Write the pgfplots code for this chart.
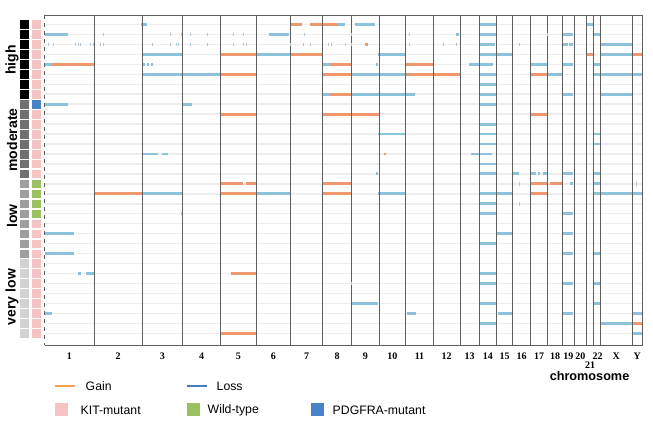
\documentclass[border=0pt]{standalone}
\usepackage{pgfplots}
\pgfplotsset{compat=1.18}
\usepackage{pgfplotstable}
\usepackage{fontspec}
\setmainfont{Liberation Sans}
\newfontfamily\chrfont{Liberation Serif}
\definecolor{gaincol}{RGB}{238,152,112}
\definecolor{losscol}{RGB}{140,194,218}
\definecolor{dotcol}{RGB}{175,200,215}
\definecolor{stripe}{RGB}{240,235,236}
\definecolor{bnd}{RGB}{95,95,95}
\definecolor{leggain}{RGB}{245,160,80}
\definecolor{legloss}{RGB}{70,125,195}
\definecolor{kit}{RGB}{245,195,196}
\definecolor{wt}{RGB}{155,192,95}
\definecolor{pdg}{RGB}{72,130,200}
\definecolor{rmod}{RGB}{112,112,112}
\definecolor{rlow}{RGB}{158,158,158}
\definecolor{rvlow}{RGB}{210,210,210}

% segments: x1 x2 (pixel position along genome) and row (sample)
\pgfplotstableread{
x1 x2 r
290 301.7 1
310 338.3 1
364.5 367.5 3
220.7 256 4
290.7 321.7 4
586.7 593.3 4
632 642.7 4
51.7 94 5
330 351.7 5
405.7 433.3 5
220.7 256 6
322.3 351.7 6
405.7 460 6
530.7 547.3 6
330 351.7 8
220.7 256 10
322.3 379 10
530.7 547.3 10
383.5 385.5 14
220.7 243.3 17
246 256 17
322.3 351.7 17
530.7 546.7 17
550 561.7 17
94 142.3 18
220.7 256 18
322.3 351.7 18
530.7 547.3 18
230.7 256 26
632 642.7 31
220.7 256 32
}\gaintab

\pgfplotstableread{
x1 x2 r
141 147 1
338.3 345 1
355 375 1
480 496 1
586.7 593.3 1
44.7 68.3 2
269 289.3 2
456 459.3 2
480 496 2
562.7 573.3 2
593.3 600.7 2
480 495 3
562.7 567.5 3
568.5 573.3 3
600.7 632 3
142.3 182.3 4
256 290.7 4
378.3 405.7 4
480 512.7 4
600.7 632 4
44.7 51.7 5
143 145 5
147 149 5
150.5 152.5 5
322.3 330 5
376 378 5
469.3 492.7 5
531 546.7 5
562.7 573.3 5
593.3 600.7 5
142.3 220.7 6
351.7 405.7 6
480 496.7 6
547.3 562.7 6
593.3 642.7 6
480 496.7 7
322.3 330 8
351.7 415 8
480 496.7 8
562.7 573.3 8
600.7 632 8
44.7 68.3 9
181.7 191.7 9
480 496.7 9
480 496.7 11
378.3 405.7 12
480 496.7 12
593.3 600.7 12
480 496.7 13
593.3 600.7 13
142.3 158.3 14
161.7 168.3 14
471 491.7 14
480 496.7 15
376 377.5 16
480 496.7 16
512.7 519.3 16
531 536 16
538 539.5 16
543.3 546.7 16
562.7 573.3 16
593.3 600.7 16
570 573.3 17
593.3 600.7 17
142.3 182.3 18
256 290.7 18
378.3 405.7 18
480 512.7 18
593.3 642.7 18
480 495.7 19
480 496.7 20
562.7 573.3 20
44.7 74 22
496.7 512.7 22
562.7 573.3 22
480 496.7 23
44.7 74 24
562.7 573.3 24
593.3 600.7 24
78.3 80.7 26
86 94 26
480 496.7 26
480 496.7 27
562.7 573.3 27
593.3 600.7 27
351.7 378.3 29
480 496.7 29
593.3 600.7 29
44.7 51.7 30
406.7 416 30
497.7 512.7 30
562.7 573.3 30
632 642.7 30
480 496.7 31
600.7 632 31
632 642.7 32
}\losstab

\pgfplotstableread{
x r
103 2
170 2
181 2
190 2
207 2
233 2
243 2
304 2
351.7 2
409 2
547.7 2
48 3
53 3
75 3
78 3
80 3
90 3
93 3
100 3
103 3
152 3
170 3
176 3
178 3
190 3
207 3
233 3
243 3
246 3
290 3
303 3
310 3
328 3
331 3
345 3
351.7 3
409 3
443 3
456 3
519 3
519 17
636 17
519 19
181.7 20
351.7 27
}\dottab

\begin{document}
\begin{tikzpicture}
\begin{axis}[
  at={(0,0)}, anchor=south west,
  width=489.75pt, height=318.75pt, scale only axis,
  xmin=0, xmax=653, ymin=0, ymax=425, y dir=reverse,
  axis lines=none, clip=false,
]
\path (axis cs:0,0) rectangle (axis cs:653,425);
% row stripes
\pgfplotsinvokeforeach{1,...,32}{
  \draw[stripe, line width=1.1pt] (axis cs:44.7,{24.5+(#1-1)*9.96}) -- (axis cs:642.7,{24.5+(#1-1)*9.96});
}
% tiny marks
\addplot[only marks, mark=|, mark size=1.3pt, dotcol, mark options={line width=0.6pt}]
  table[x=x, y expr=24.5+(\thisrow{r}-1)*9.96] {\dottab};
% gains and losses
\addplot[losscol, line width=2.15pt, quiver={u=\thisrow{x2}-\thisrow{x1}, v=0}]
  table[x=x1, y expr=24.5+(\thisrow{r}-1)*9.96] {\losstab};
\addplot[gaincol, line width=2.15pt, quiver={u=\thisrow{x2}-\thisrow{x1}, v=0}]
  table[x=x1, y expr=24.5+(\thisrow{r}-1)*9.96] {\gaintab};
% frame and chromosome boundaries
\draw[bnd, line width=0.75pt] (axis cs:44.7,15) -- (axis cs:642.7,15) -- (axis cs:642.7,345) -- (axis cs:44.7,345);
\draw[bnd, line width=0.75pt, dashed] (axis cs:44.7,15) -- (axis cs:44.7,345);
\pgfplotsinvokeforeach{94,142.3,182.3,220.7,256,290.7,322.3,351.7,379,405.7,433.3,460,479,496.7,512.7,530.7,547.3,562.7,574,586.7,593.3,600.7,632}{
  \draw[bnd, line width=0.75pt] (axis cs:#1,15) -- (axis cs:#1,345);
}
% risk group squares
\addplot[only marks, mark=square*, mark size=2.85pt, black] table[x expr=24.5, y expr=24.5+(\thisrow{r}-1)*9.96] {
r
1
2
3
4
5
6
7
8
};
\addplot[only marks, mark=square*, mark size=2.85pt, rmod] table[x expr=24.5, y expr=24.5+(\thisrow{r}-1)*9.96] {
r
9
10
11
12
13
14
15
16
};
\addplot[only marks, mark=square*, mark size=2.85pt, rlow] table[x expr=24.5, y expr=24.5+(\thisrow{r}-1)*9.96] {
r
17
18
19
20
21
22
23
24
};
\addplot[only marks, mark=square*, mark size=2.85pt, rvlow] table[x expr=24.5, y expr=24.5+(\thisrow{r}-1)*9.96] {
r
25
26
27
28
29
30
31
32
};
% mutation squares
\addplot[only marks, mark=square*, mark size=2.85pt, kit] table[x expr=36.4, y expr=24.5+(\thisrow{r}-1)*9.96] {
r
1
2
3
4
5
6
7
8
10
11
12
13
14
15
16
21
22
23
24
25
26
27
28
29
30
31
32
};
\addplot[only marks, mark=square*, mark size=2.85pt, wt] table[x expr=36.4, y expr=24.5+(\thisrow{r}-1)*9.96] {
r
17
18
19
20
};
\addplot[only marks, mark=square*, mark size=2.85pt, pdg] table[x expr=36.4, y expr=24.5+(\thisrow{r}-1)*9.96] {
r
9
};
% group labels
\node[rotate=90, font=\fontsize{10.5}{12}\selectfont\bfseries] at (axis cs:12,60) {high};
\node[rotate=90, font=\fontsize{10.5}{12}\selectfont\bfseries] at (axis cs:12,140) {moderate};
\node[rotate=90, font=\fontsize{10.5}{12}\selectfont\bfseries] at (axis cs:12,216) {low};
\node[rotate=90, font=\fontsize{10.5}{12}\selectfont\bfseries] at (axis cs:12,297) {very low};
% chromosome labels
\begin{scope}[every node/.style={font=\chrfont\bfseries\fontsize{7.5}{8}\selectfont}]
\node at (axis cs:69.35,356) {1};
\node at (axis cs:118.15,356) {2};
\node at (axis cs:162.3,356) {3};
\node at (axis cs:201.5,356) {4};
\node at (axis cs:238.35,356) {5};
\node at (axis cs:273.35,356) {6};
\node at (axis cs:306.5,356) {7};
\node at (axis cs:337,356) {8};
\node at (axis cs:365.35,356) {9};
\node at (axis cs:392.35,356) {10};
\node at (axis cs:419.5,356) {11};
\node at (axis cs:446.65,356) {12};
\node at (axis cs:469.5,356) {13};
\node at (axis cs:487.85,356) {14};
\node at (axis cs:504.7,356) {15};
\node at (axis cs:521.7,356) {16};
\node at (axis cs:539,356) {17};
\node at (axis cs:555,356) {18};
\node at (axis cs:568.35,356) {19};
\node at (axis cs:580.35,356) {20};
\node at (axis cs:590,365) {21};
\node at (axis cs:597.5,356) {22};
\node at (axis cs:616.35,356) {X};
\node at (axis cs:637.35,356) {Y};
\end{scope}
\node[anchor=east, font=\fontsize{9.5}{11}\selectfont\bfseries] at (axis cs:634,376) {chromosome};
% legend
\draw[leggain, line width=2.2pt] (axis cs:55,386) -- (axis cs:75,386);
\node[anchor=west, font=\fontsize{9.2}{10}\selectfont] at (axis cs:81,386) {Gain};
\draw[legloss, line width=2.2pt] (axis cs:187,386) -- (axis cs:207,386);
\node[anchor=west, font=\fontsize{9.2}{10}\selectfont] at (axis cs:212,386) {Loss};
\fill[kit] (axis cs:55,403) rectangle (axis cs:68,416);
\node[anchor=west, font=\fontsize{9.2}{10}\selectfont] at (axis cs:76,410) {KIT-mutant};
\fill[wt] (axis cs:187,403) rectangle (axis cs:200,416);
\node[anchor=west, font=\fontsize{9.2}{10}\selectfont] at (axis cs:203,410) {Wild-type};
\fill[pdg] (axis cs:311,403) rectangle (axis cs:324,416);
\node[anchor=west, font=\fontsize{9.2}{10}\selectfont] at (axis cs:328,410) {PDGFRA-mutant};
\end{axis}
\end{tikzpicture}
\end{document}
